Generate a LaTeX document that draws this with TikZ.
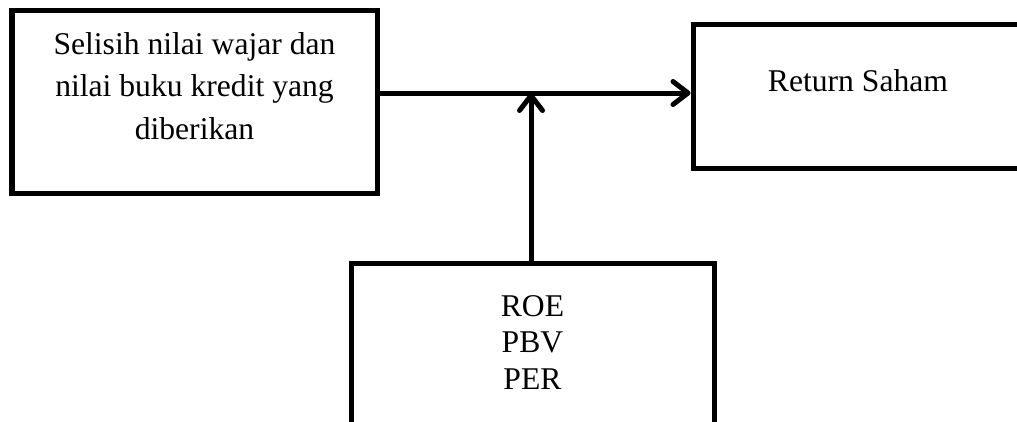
\documentclass[tikz,border=0pt]{standalone}
\usepackage{fontspec}
\setmainfont{Liberation Serif}
\usetikzlibrary{arrows.meta,calc}
\tikzset{
%Define standard arrow tip
>={Straight Barb[length=0.3cm,width=0.46cm,line cap=round,line join=round]},
%Define styles for boxes and texts
box/.style={draw, line width=0.1cm, rectangle, inner sep=0pt},
label text/.style={align=center, font=\fontsize{18}{24}\selectfont},
flow/.style={->, line width=0.1cm},
}
\begin{document}
\begin{tikzpicture}
\useasboundingbox (0,0) rectangle (20.34,-8.42);
\clip (0,0) rectangle (20.34,-8.42);
% Draw the three boxes
\node[box, minimum width=7.3cm, minimum height=3.66cm] (sel) at (3.89,-2.03) {};
\node[box, minimum width=6.64cm, minimum height=2.88cm] (ret) at (17.18,-1.92) {};
\node[box, minimum width=7.26cm, minimum height=3.54cm] (mod) at (10.65,-7.03) {};
% Texts inside the boxes
\node[label text] (seltxt) at (3.89,-1.72) {Selisih nilai wajar dan\\nilai buku kredit yang\\diberikan};
\node[label text] (rettxt) at (17.16,-1.62) {Return Saham};
\node[label text, font=\fontsize{18}{21}\selectfont] (modtxt) at (10.65,-6.85) {ROE\\PBV\\PER};
% Junction on the main line
\coordinate (junc) at (10.62,-1.86);
% Draw the arrows
\draw[flow] (sel.east |- junc) -- (ret.west |- junc);
\draw[flow] (mod.north -| junc) -- (junc);
\end{tikzpicture}
\end{document}
